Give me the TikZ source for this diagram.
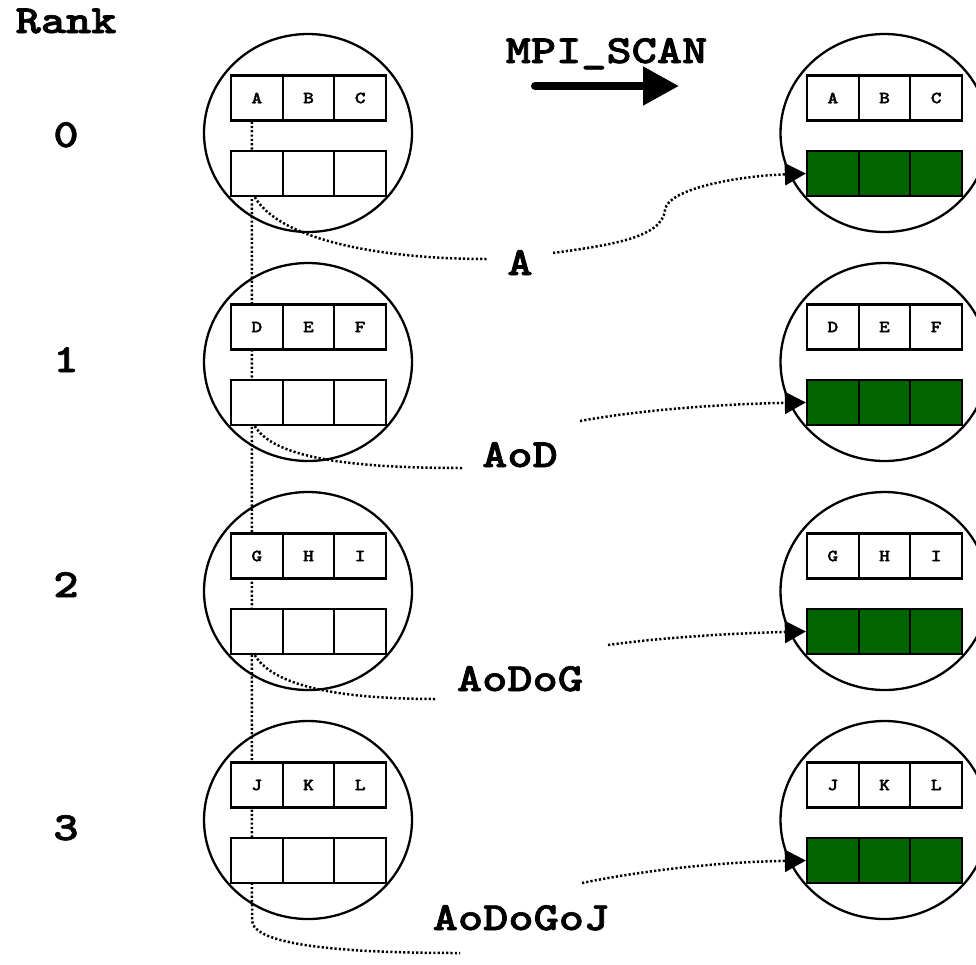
\documentclass[tikz,border=0pt]{standalone}
\usepackage{fontspec}
\usepackage{graphicx}
\usetikzlibrary{arrows.meta,shapes.geometric}
\pgfdeclarelayer{background}
\pgfsetlayers{background,main}
\definecolor{scangreen}{RGB}{0,100,0}
% heavy typewriter face, widened to Courier proportions
\newfontfamily\slabfont{lmmonolt10-bold.otf}[FakeBold=1.6]
\newcommand\stretchtext[1]{\scalebox{1.2}[1]{#1}}
\begin{document}
\begin{tikzpicture}[x=1pt,y=-1pt,
  proc/.style={ellipse, draw, line width=2.3pt, minimum width=208pt, minimum height=198pt, inner sep=0pt},
  cell/.style={draw, line width=2.2pt, fill=white, minimum width=51.7pt, minimum height=45pt, inner sep=0pt,
               font=\slabfont\fontsize{17}{20}\selectfont},
  result/.style={cell, fill=scangreen},
  big/.style={font=\slabfont\fontsize{40}{48}\selectfont, inner sep=0pt, anchor=base},
  flow/.style={line width=2.5pt, line cap=butt, dash pattern=on 2.2pt off 2.1pt},
  feed/.style={flow, -{Triangle[length=21pt,width=22pt]}},
]
\useasboundingbox (0,0) rectangle (976,964);

% processes: send buffers on the left, receive buffers on the right
\foreach \i in {0,...,3} {
  \node[proc] (L\i) at (308, {133+229*\i}) {};
  \node[proc] (R\i) at (884.5, {133+229*\i}) {};
}

% buffers
\foreach \i/\a/\b/\c in {0/A/B/C,1/D/E/F,2/G/H/I,3/J/K/L} {
  % send buffer (top row) and empty receive buffer (bottom row), before
  \node[cell] (L\i t1) at (256.8, {133+229*\i-35}) {\stretchtext{\a}};
  \node[cell] (L\i t2) at (308.5, {133+229*\i-35}) {\stretchtext{\b}};
  \node[cell] (L\i t3) at (360.2, {133+229*\i-35}) {\stretchtext{\c}};
  \node[cell] (L\i b1) at (256.8, {133+229*\i+40.5}) {};
  \node[cell] (L\i b2) at (308.5, {133+229*\i+40.5}) {};
  \node[cell] (L\i b3) at (360.2, {133+229*\i+40.5}) {};
  % after the scan: receive buffer filled
  \node[cell] (R\i t1) at (832.8, {133+229*\i-35}) {\stretchtext{\a}};
  \node[cell] (R\i t2) at (884.5, {133+229*\i-35}) {\stretchtext{\b}};
  \node[cell] (R\i t3) at (936.2, {133+229*\i-35}) {\stretchtext{\c}};
  \node[result] (R\i b1) at (832.8, {133+229*\i+40.5}) {};
  \node[result] (R\i b2) at (884.5, {133+229*\i+40.5}) {};
  \node[result] (R\i b3) at (936.2, {133+229*\i+40.5}) {};
}

% rank column
\node[big] (rank) at (66,33) {\stretchtext{Rank}};
\foreach \i/\yb in {0/147,1/372,2/597,3/840}
  \node[big] (rk\i) at (66,\yb) {\stretchtext{\i}};

% operation
\node[big] (title) at (606.5,63) {\stretchtext{MPI\_SCAN}};
\coordinate (scanfrom) at (535,86);
\coordinate (scanto) at (679,86);
\draw[line width=8pt, line cap=round, -{Triangle[length=36pt,width=37pt]}] (scanfrom) -- (scanto);

% partial results
\node[big] (v0) at (520,275) {\stretchtext{A}};
\node[big] (v1) at (520,467) {\stretchtext{AoD}};
\node[big] (v2) at (520,691) {\stretchtext{AoDoG}};
\node[big] (v3) at (521,930) {\stretchtext{AoDoGoJ}};

\coordinate (in0) at (487,259);
\coordinate (in1) at (463,468);
\coordinate (in2) at (437,699);
\coordinate (in3) at (460,953);
\coordinate (drop) at (252,920);
\coordinate (out0) at (553,253);
\coordinate (out1) at (580,421);
\coordinate (out2) at (608,645);
\coordinate (out3) at (582,883);

\begin{pgfonlayer}{background}
  % running combination of the first elements
  \draw[flow] ([xshift=-5pt]L0t1.south) -- (drop) .. controls (252,945) and (340,953) .. (in3);
  \draw[flow] ([xshift=-2pt]L0b1.south) .. controls (280,240) and (380,259) .. (in0);
  \draw[flow] ([xshift=-2pt]L1b1.south) .. controls (275,460) and (360,468) .. (in1);
  \draw[flow] ([xshift=-2pt]L2b1.south) .. controls (275,689) and (350,699) .. (in2);
  % delivery into the receive buffers
  \draw[feed] (out0) .. controls (610,245) and (662,238) .. (665,210)
                     .. controls (668,188) and (740,176) .. (R0b1.west);
  \draw[feed] (out1) .. controls (640,410) and (720,404) .. (R1b1.west);
  \draw[feed] (out2) .. controls (665,637) and (740,633) .. (R2b1.west);
  \draw[feed] (out3) .. controls (645,870) and (720,862) .. (R3b1.west);
\end{pgfonlayer}
\end{tikzpicture}
\end{document}
